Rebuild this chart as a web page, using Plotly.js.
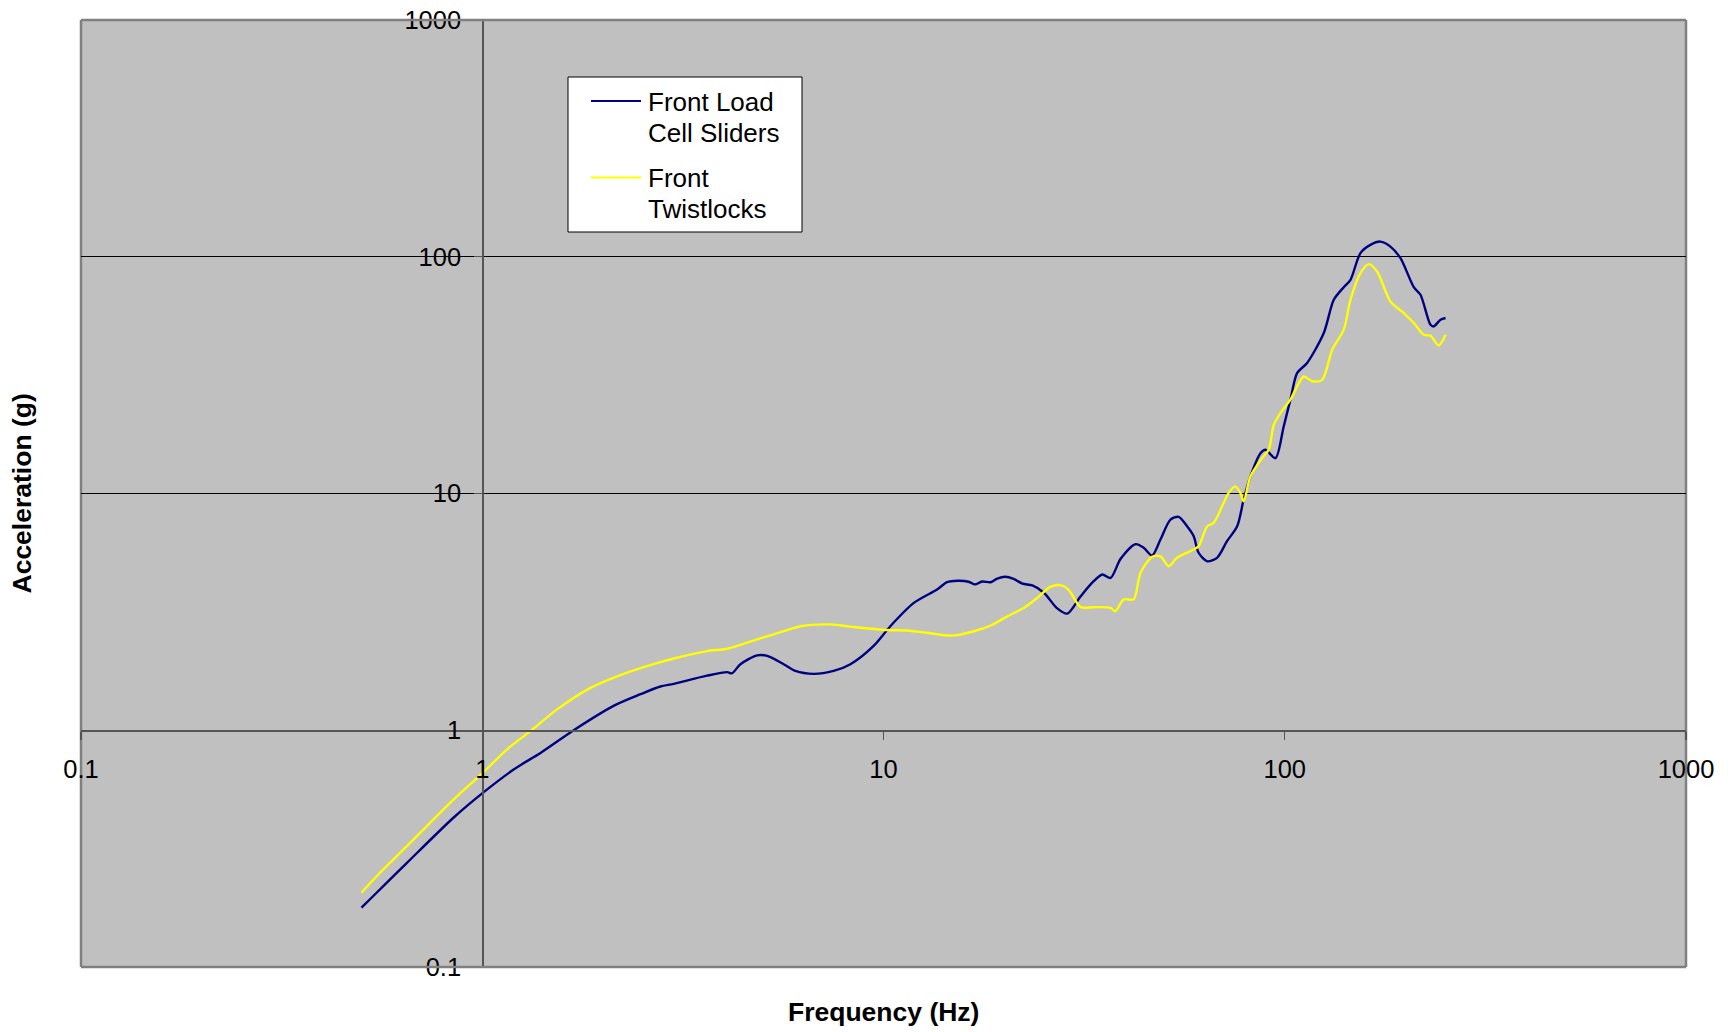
<!DOCTYPE html>
<html>
<head>
<meta charset="utf-8">
<script src="https://cdn.plot.ly/plotly-3.0.1.min.js"></script>
<style>
  html, body { margin: 0; padding: 0; background: #ffffff; }
  #chart { width: 1734px; height: 1032px; }
</style>
</head>
<body>
<div id="chart"></div>
<script>
// ---- Data ----
const seriesNames = ["Front Load Cell Sliders", "Front Twistlocks"];
const legendLines = [["Front Load", "Cell Sliders"], ["Front", "Twistlocks"]];
const seriesColors = ["#000080", "#FFFF00"];

const freqLoadCell = [0.50, 0.536, 0.65, 0.849, 1.005, 1.20, 1.40, 1.69, 2.13, 2.48, 2.78, 3.00, 3.63, 4.08, 4.19, 4.40, 4.84, 5.13, 5.64, 6.03, 6.70, 7.51, 8.27, 9.45, 10.4, 11.9, 13.6, 14.4, 15.3, 16.3, 16.9, 17.6, 18.5, 19.2, 20.1, 21.1, 22.2, 23.5, 25.1, 27.1, 28.7, 31.0, 33.4, 35.1, 36.8, 39.0, 42.5, 44.5, 46.7, 49.0, 51.9, 54.4, 57.1, 59.3, 61.0, 64.1, 67.8, 71.8, 76.1, 79.0, 82.1, 87.0, 89.5, 94.8, 99.4, 103.3, 107.4, 113.7, 125.1, 132.5, 140.3, 145.8, 154.4, 163.5, 173.2, 183.4, 194.3, 209.7, 217.9, 230.8, 235.2, 244.4, 251.6];
const accLoadCell  = [0.178, 0.200, 0.276, 0.428, 0.545, 0.684, 0.804, 1.00, 1.27, 1.42, 1.53, 1.57, 1.70, 1.76, 1.74, 1.90, 2.07, 2.06, 1.90, 1.78, 1.73, 1.78, 1.90, 2.27, 2.75, 3.45, 3.93, 4.22, 4.28, 4.24, 4.13, 4.25, 4.22, 4.37, 4.45, 4.36, 4.16, 4.09, 3.81, 3.27, 3.11, 3.68, 4.26, 4.55, 4.40, 5.30, 6.11, 5.90, 5.47, 6.39, 7.76, 7.97, 7.27, 6.60, 5.62, 5.17, 5.35, 6.29, 7.27, 9.43, 11.8, 14.8, 15.3, 14.1, 19.2, 24.9, 32.3, 35.6, 47.6, 65.8, 74.4, 79.9, 103.6, 112.2, 115.9, 110.4, 98.6, 74.4, 69.1, 51.6, 50.8, 54.2, 55.1];

const freqTwistlocks = [0.50, 0.547, 0.65, 0.849, 1.005, 1.153, 1.318, 1.537, 1.86, 2.13, 2.48, 2.78, 3.00, 3.63, 4.08, 4.84, 5.64, 6.21, 7.37, 8.27, 10.2, 11.45, 12.8, 14.8, 16.8, 18.5, 20.3, 22.4, 24.2, 26.1, 27.6, 28.9, 31.0, 33.4, 36.8, 37.8, 39.7, 42.0, 43.7, 46.7, 49.0, 51.4, 53.9, 59.3, 61.0, 64.1, 66.5, 72.5, 75.3, 77.5, 79.0, 82.1, 87.8, 91.2, 93.9, 97.6, 103.3, 111.5, 117.0, 123.9, 131.3, 140.3, 145.8, 154.4, 162.0, 169.9, 183.4, 198.0, 209.7, 222.1, 230.8, 242.0, 251.6];
const accTwistlocks  = [0.206, 0.243, 0.325, 0.511, 0.663, 0.831, 0.992, 1.225, 1.51, 1.67, 1.83, 1.94, 2.01, 2.16, 2.21, 2.42, 2.62, 2.75, 2.80, 2.74, 2.65, 2.64, 2.58, 2.51, 2.62, 2.77, 3.02, 3.29, 3.63, 4.04, 4.10, 3.93, 3.31, 3.31, 3.29, 3.18, 3.57, 3.57, 4.62, 5.40, 5.43, 4.93, 5.35, 5.80, 5.99, 7.27, 7.52, 10.06, 10.72, 10.06, 9.27, 11.8, 14.1, 15.3, 19.5, 21.9, 24.9, 31.2, 29.8, 30.2, 40.5, 49.2, 65.8, 85.3, 93.1, 86.6, 64.7, 57.8, 52.5, 46.8, 46.4, 42.2, 46.8];

const xTickVals = [0.1, 1, 10, 100, 1000];
const xTickText = ["0.1", "1", "10", "100", "1000"];
const yTickVals = [0.1, 1, 10, 100, 1000];
const yTickText = ["0.1", "1", "10", "100", "1000"];

const xTitle = "Frequency (Hz)";
const yTitle = "Acceleration (g)";

// ---- Layout geometry (pixels) ----
const W = 1734, H = 1032;
const M = { l: 81, r: 48, t: 20, b: 65 };
const plotW = W - M.l - M.r, plotH = H - M.t - M.b;
const px = x => (x - M.l) / plotW;          // pixel -> paper x
const py = y => (H - M.b - y) / plotH;      // pixel -> paper y

const FONT = "Liberation Sans, Arial, sans-serif";

const traces = [
  {
    x: freqLoadCell, y: accLoadCell, name: seriesNames[0],
    type: "scatter", mode: "lines",
    line: { color: seriesColors[0], width: 2.4, shape: "spline", smoothing: 0.8 }
  },
  {
    x: freqTwistlocks, y: accTwistlocks, name: seriesNames[1],
    type: "scatter", mode: "lines",
    line: { color: seriesColors[1], width: 2.4, shape: "spline", smoothing: 0.8 }
  }
];

const axisCommon = {
  type: "log",
  range: [-1, 3],
  anchor: "free",
  position: 0.25,
  showline: true,
  linecolor: "#555555",
  linewidth: 1.5,
  ticks: "outside",
  ticklen: 8,
  tickwidth: 1.2,
  tickcolor: "#555555",
  tickmode: "array",
  tickfont: { family: FONT, size: 25.5, color: "#000000" },
  fixedrange: true
};

// Legend box (drawn with layout shapes/annotations to match the reference box)
const LEG = { x0: 568, x1: 802, y0: 77, y1: 232, lineX0: 591, lineX1: 641, textX: 646,
              entryY: [101, 177.5], lineGap: 31 };

const shapes = [
  // plot frame: top & bottom above traces, left & right below tick labels
  { type: "line", xref: "paper", yref: "paper", x0: 0, x1: 1, y0: 1, y1: 1, line: { color: "#808080", width: 2.5 }, layer: "above" },
  { type: "line", xref: "paper", yref: "paper", x0: 0, x1: 1, y0: 0, y1: 0, line: { color: "#808080", width: 2.5 }, layer: "above" },
  { type: "line", xref: "paper", yref: "paper", x0: 0, x1: 0, y0: 0, y1: 1, line: { color: "#808080", width: 2.5 }, layer: "below" },
  { type: "line", xref: "paper", yref: "paper", x0: 1, x1: 1, y0: 0, y1: 1, line: { color: "#808080", width: 2.5 }, layer: "below" },
  // legend box
  { type: "rect", xref: "paper", yref: "paper", x0: px(LEG.x0), x1: px(LEG.x1), y0: py(LEG.y1), y1: py(LEG.y0),
    fillcolor: "#ffffff", line: { color: "#000000", width: 1 }, layer: "above" }
];

const annotations = [
  {
    text: "<b>" + xTitle + "</b>", xref: "paper", yref: "paper",
    x: 0.5, y: py(1012), xanchor: "center", yanchor: "middle",
    showarrow: false, font: { family: FONT, size: 26.5, color: "#000000" }
  },
  {
    text: "<b>" + yTitle + "</b>", xref: "paper", yref: "paper",
    x: px(21), y: 0.5, xanchor: "center", yanchor: "middle",
    textangle: -90,
    showarrow: false, font: { family: FONT, size: 26.5, color: "#000000" }
  }
];

legendLines.forEach((lines, i) => {
  const yc = LEG.entryY[i];
  shapes.push({ type: "line", xref: "paper", yref: "paper",
    x0: px(LEG.lineX0), x1: px(LEG.lineX1), y0: py(yc), y1: py(yc),
    line: { color: seriesColors[i], width: 2.2 }, layer: "above" });
  lines.forEach((t, j) => {
    annotations.push({ text: t, xref: "paper", yref: "paper",
      x: px(LEG.textX), y: py(yc + 1 + j * LEG.lineGap), xanchor: "left", yanchor: "middle",
      showarrow: false, font: { family: FONT, size: 26, color: "#000000" } });
  });
});

const layout = {
  width: W,
  height: H,
  margin: M,
  paper_bgcolor: "#ffffff",
  plot_bgcolor: "#C0C0C0",
  font: { family: FONT, size: 26, color: "#000000" },
  showlegend: false,
  xaxis: Object.assign({}, axisCommon, {
    tickvals: xTickVals, ticktext: xTickText,
    showgrid: false,
    ticklabelstandoff: 8
  }),
  yaxis: Object.assign({}, axisCommon, {
    tickvals: yTickVals, ticktext: yTickText,
    showgrid: true, gridcolor: "#000000", gridwidth: 1,
    ticklabelstandoff: 8
  }),
  shapes: shapes,
  annotations: annotations
};

Plotly.newPlot("chart", traces, layout, { displayModeBar: false, staticPlot: true });
</script>
</body>
</html>
